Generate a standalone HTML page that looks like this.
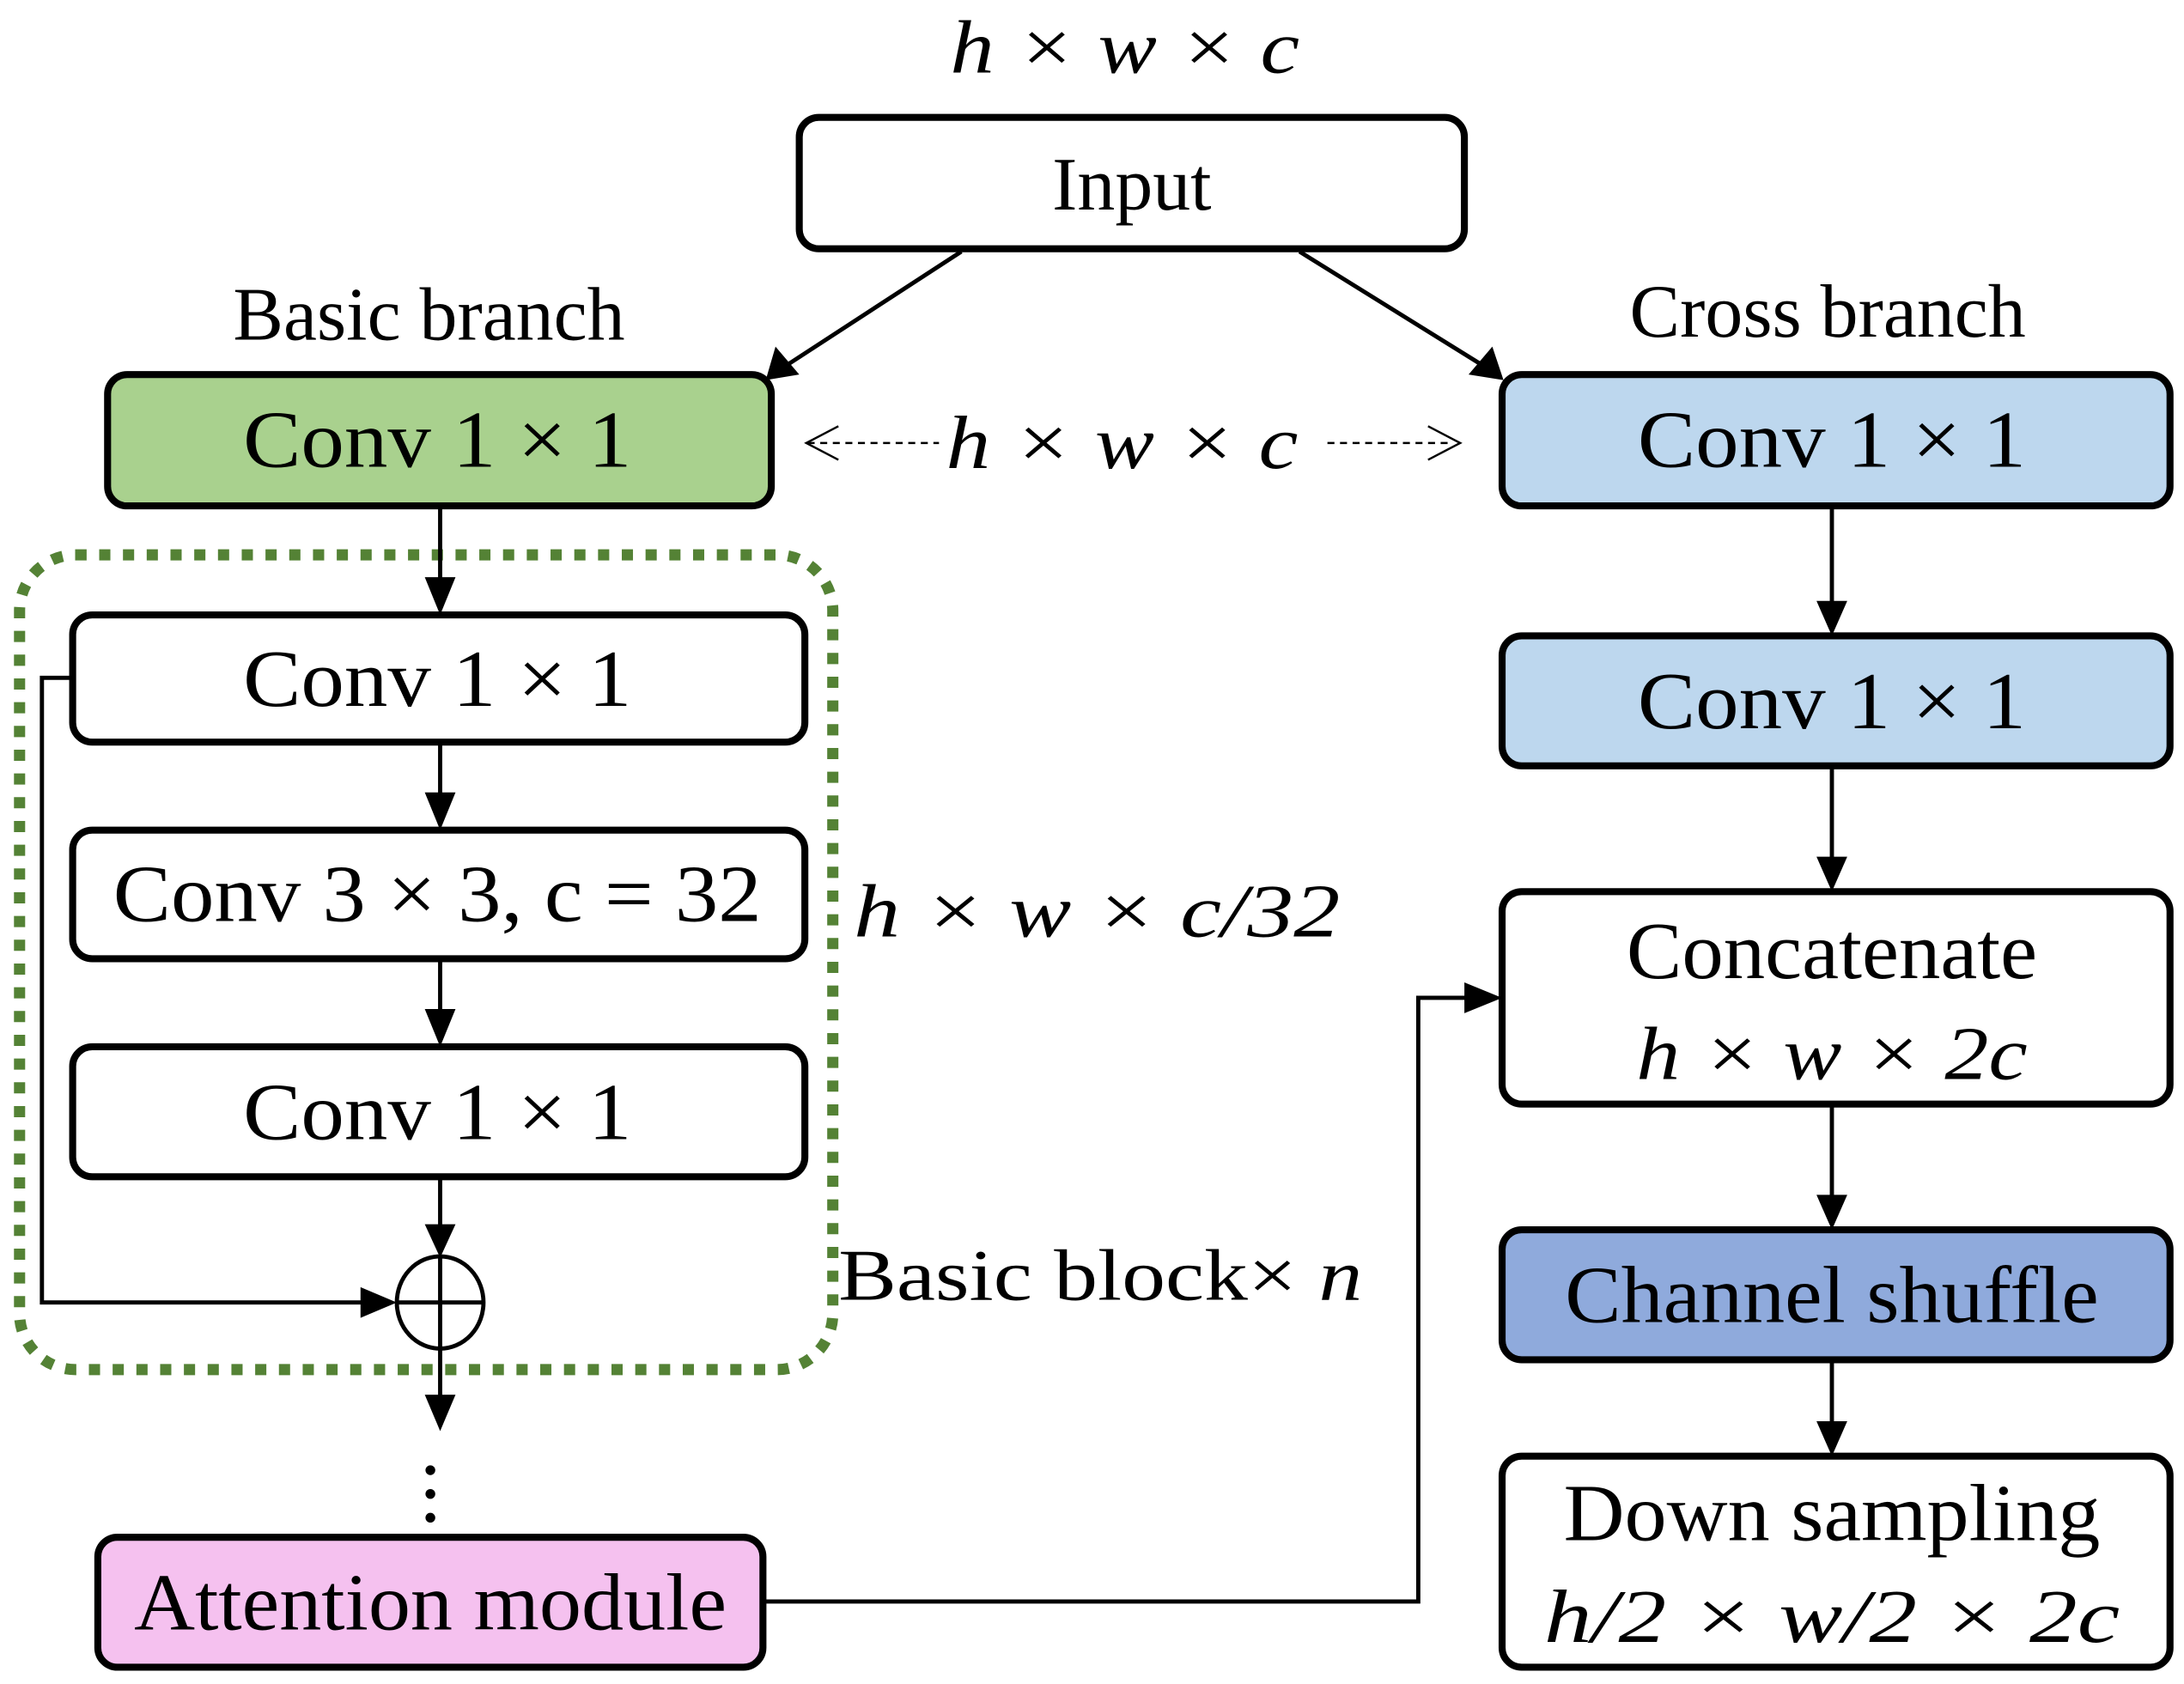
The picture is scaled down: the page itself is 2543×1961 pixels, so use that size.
<!DOCTYPE html>
<html><head><meta charset="utf-8"><style>html,body{margin:0;padding:0;background:#fff}svg{display:block}</style></head>
<body>
<svg width="2543" height="1961" viewBox="0 0 1563 1205" preserveAspectRatio="none" xmlns="http://www.w3.org/2000/svg">
<g font-family="Liberation Serif, serif" fill="#000">
<g stroke="#000" stroke-width="5">
<rect x="572" y="84" width="476" height="94" rx="14" fill="#fff"/>
<rect x="77" y="268" width="475" height="94" rx="14" fill="#a9d18e"/>
<rect x="1075" y="268" width="478" height="94" rx="14" fill="#bdd7ee"/>
<rect x="1075" y="455" width="478" height="93" rx="14" fill="#bdd7ee"/>
<rect x="1075" y="638" width="478" height="152" rx="14" fill="#fff"/>
<rect x="1075" y="880" width="478" height="93" rx="14" fill="#8faadc"/>
<rect x="1075" y="1042" width="478" height="151" rx="14" fill="#fff"/>
<rect x="52" y="440" width="524" height="91" rx="14" fill="#fff"/>
<rect x="52" y="594" width="524" height="92" rx="14" fill="#fff"/>
<rect x="52" y="749" width="524" height="93" rx="14" fill="#fff"/>
<rect x="70" y="1100" width="476" height="93" rx="14" fill="#f5c1ef"/>
</g>
<rect x="14" y="397" width="582" height="583" rx="40" fill="none" stroke="#548235" stroke-width="8" stroke-dasharray="8 9"/>
<g stroke="#000" stroke-width="3" fill="none">
<line x1="688" y1="180" x2="562" y2="262"/>
<line x1="930" y1="180" x2="1062" y2="262"/>
<line x1="315" y1="362" x2="315" y2="415"/>
<line x1="315" y1="531" x2="315" y2="570"/>
<line x1="315" y1="686" x2="315" y2="725"/>
<line x1="315" y1="842" x2="315" y2="880"/>
<line x1="315" y1="965" x2="315" y2="1000"/>
<polyline points="52,485 30,485 30,932 262,932"/>
<ellipse cx="315" cy="932" rx="31" ry="33"/>
<line x1="284" y1="932" x2="346" y2="932"/>
<line x1="315" y1="899" x2="315" y2="965"/>
<polyline points="546,1146 1015,1146 1015,714 1052,714"/>
<line x1="1311" y1="362" x2="1311" y2="432"/>
<line x1="1311" y1="548" x2="1311" y2="615"/>
<line x1="1311" y1="790" x2="1311" y2="857"/>
<line x1="1311" y1="973" x2="1311" y2="1019"/>
</g>
<g stroke="#000" stroke-width="1.5" fill="none" stroke-dasharray="5 4">
<line x1="578" y1="317" x2="672" y2="317"/>
<line x1="950" y1="317" x2="1040" y2="317"/>
</g>
<g stroke="#000" stroke-width="1.5" fill="none">
<polyline points="600,305 577,317 600,329"/>
<polyline points="1022,305 1045,317 1022,329"/>
</g>
<g fill="#000">
<polygon points="548,272 555,248 572,268"/>
<polygon points="1076,272 1051,268 1068,248"/>
<polygon points="304,413 326,413 315,440"/>
<polygon points="304,567 326,567 315,594"/>
<polygon points="304,722 326,722 315,749"/>
<polygon points="304,876 326,876 315,900"/>
<polygon points="304,998 326,998 315,1024"/>
<polygon points="258,921 258,943 284,932"/>
<polygon points="1048,703 1048,725 1075,714"/>
<polygon points="1300,430 1322,430 1311,455"/>
<polygon points="1300,613 1322,613 1311,638"/>
<polygon points="1300,855 1322,855 1311,880"/>
<polygon points="1300,1017 1322,1017 1311,1042"/>
<circle cx="308" cy="1052" r="3.5"/>
<circle cx="308" cy="1069" r="3.5"/>
<circle cx="308" cy="1086" r="3.5"/>
</g>
<g font-size="58" text-anchor="middle">
<text x="810" y="150" font-size="54">Input</text>
<text x="307" y="243" font-size="54">Basic branch</text>
<text x="1308" y="241" font-size="54">Cross branch</text>
<text x="313" y="334" textLength="278" lengthAdjust="spacingAndGlyphs">Conv 1 × 1</text>
<text x="1311" y="334" textLength="278" lengthAdjust="spacingAndGlyphs">Conv 1 × 1</text>
<text x="1311" y="521" textLength="278" lengthAdjust="spacingAndGlyphs">Conv 1 × 1</text>
<text x="313" y="505" textLength="278" lengthAdjust="spacingAndGlyphs">Conv 1 × 1</text>
<text x="313" y="659" textLength="464" lengthAdjust="spacingAndGlyphs">Conv 3 × 3, c = 32</text>
<text x="313" y="815" textLength="278" lengthAdjust="spacingAndGlyphs">Conv 1 × 1</text>
<text x="308" y="1166" textLength="424" lengthAdjust="spacingAndGlyphs">Attention module</text>
<text x="1311" y="700" textLength="294" lengthAdjust="spacingAndGlyphs">Concatenate</text>
<text x="1311" y="946" textLength="382" lengthAdjust="spacingAndGlyphs">Channel shuffle</text>
<text x="1311" y="1102" textLength="384" lengthAdjust="spacingAndGlyphs">Down sampling</text>
</g>
<g font-size="54" text-anchor="middle" font-style="italic">
<text x="805" y="52" textLength="250" lengthAdjust="spacingAndGlyphs">h × w × c</text>
<text x="803" y="335" textLength="252" lengthAdjust="spacingAndGlyphs">h × w × c</text>
<text x="785" y="670" textLength="348" lengthAdjust="spacingAndGlyphs">h × w × c/32</text>
<text x="1311" y="772" textLength="280" lengthAdjust="spacingAndGlyphs">h × w × 2c</text>
<text x="1311" y="1175" textLength="412" lengthAdjust="spacingAndGlyphs">h/2 × w/2 × 2c</text>
</g>
<text x="600" y="930" font-size="52" textLength="375" lengthAdjust="spacingAndGlyphs">Basic block× <tspan font-style="italic">n</tspan></text>
</g>
</svg>
</body></html>
